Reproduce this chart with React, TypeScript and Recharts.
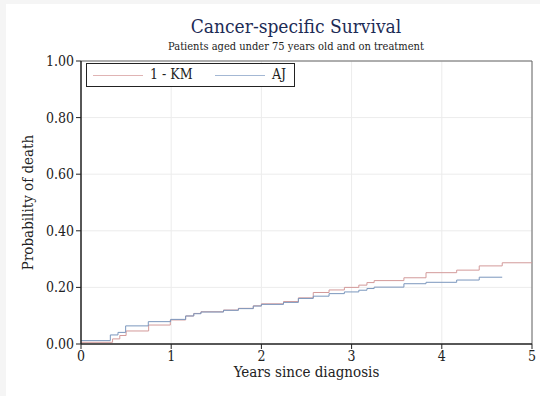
import React from "react";
import { LineChart, Line, XAxis, YAxis, CartesianGrid, ReferenceLine } from "recharts";

const kmTimes = [0, 0.35, 0.43, 0.5, 0.75, 0.99, 1.16, 1.25, 1.33, 1.58, 1.745, 1.91, 2.0, 2.245, 2.41, 2.575, 2.75, 2.92, 3.08, 3.17, 3.25, 3.58, 3.825, 4.165, 4.415, 4.67, 5.0];
const kmValues = [0.006, 0.018, 0.03, 0.046, 0.067, 0.085, 0.099, 0.108, 0.114, 0.12, 0.126, 0.135, 0.142, 0.15, 0.163, 0.182, 0.191, 0.2, 0.208, 0.217, 0.224, 0.234, 0.252, 0.261, 0.276, 0.287, 0.287];

const ajTimes = [0, 0.325, 0.41, 0.495, 0.746, 0.994, 1.16, 1.25, 1.33, 1.58, 1.745, 1.91, 2.0, 2.245, 2.41, 2.575, 2.75, 2.92, 3.08, 3.17, 3.25, 3.58, 3.825, 4.165, 4.415, 4.67];
const ajValues = [0.012, 0.032, 0.041, 0.064, 0.079, 0.087, 0.099, 0.107, 0.113, 0.119, 0.125, 0.134, 0.14, 0.147, 0.161, 0.169, 0.178, 0.184, 0.19, 0.196, 0.201, 0.213, 0.218, 0.226, 0.236, 0.236];

const xTicks = [0, 1, 2, 3, 4, 5];
const yTicks = [0, 0.2, 0.4, 0.6, 0.8, 1.0];

const title = "Cancer-specific Survival";
const subtitle = "Patients aged under 75 years old and on treatment";
const xLabel = "Years since diagnosis";
const yLabel = "Probability of death";
const seriesNames = ["1 - KM", "AJ"];

const kmData = kmTimes.map((t, i) => ({ t, v: kmValues[i] }));
const ajData = ajTimes.map((t, i) => ({ t, v: ajValues[i] }));

const RED = "#d39a9a";
const BLUE = "#7b97bd";
const FONT = "'DejaVu Serif Condensed', 'DejaVu Serif', serif";

export default function App() {
  return (
    <div style={{ position: "absolute", left: 0, top: 0, width: 540, height: 396, background: "#f5f5f5", fontFamily: FONT }}>
      <div style={{ position: "absolute", left: 6, top: 4, width: 534, height: 392, background: "#ffffff" }} />
      <div style={{ position: "absolute", left: 0, top: 0 }}>
        <LineChart width={540} height={396} margin={{ top: 61, right: 8, bottom: 0, left: 0 }}>
          <CartesianGrid stroke="#ececec" strokeWidth={1} />
          <XAxis
            type="number"
            dataKey="t"
            domain={[0, 5]}
            ticks={xTicks}
            height={52}
            tickSize={5}
            tick={{ fill: "#222", fontSize: 14, fontFamily: FONT }}
            tickLine={{ stroke: "#222" }}
            axisLine={{ stroke: "#222", strokeWidth: 1.5 }}
            tickFormatter={(v: number) => String(v)}
            label={{ value: xLabel, position: "insideBottom", offset: 19, fill: "#222", fontSize: 15, fontFamily: FONT }}
          />
          <YAxis
            type="number"
            domain={[0, 1]}
            ticks={yTicks}
            width={81}
            tickSize={5}
            tick={{ fill: "#222", fontSize: 14, fontFamily: FONT }}
            tickLine={{ stroke: "#222" }}
            axisLine={{ stroke: "#222", strokeWidth: 1.5 }}
            tickFormatter={(v: number) => v.toFixed(2)}
            label={{ value: yLabel, angle: -90, position: "insideLeft", offset: 28, fill: "#222", fontSize: 15, fontFamily: FONT, style: { textAnchor: "middle" } }}
          />
          <ReferenceLine y={1} stroke="#666" strokeWidth={1} />
          <ReferenceLine x={5} stroke="#666" strokeWidth={1} />
          <Line data={kmData} dataKey="v" type="stepAfter" stroke={RED} strokeWidth={1} dot={false} isAnimationActive={false} />
          <Line data={ajData} dataKey="v" type="stepAfter" stroke={BLUE} strokeWidth={1} dot={false} isAnimationActive={false} />
        </LineChart>
      </div>
      <div style={{ position: "absolute", left: 96, width: 400, top: 15, textAlign: "center", fontSize: 19, color: "#1c2b55", whiteSpace: "nowrap" }}>{title}</div>
      <div style={{ position: "absolute", left: 96, width: 400, top: 40, textAlign: "center", fontSize: 11, color: "#222", whiteSpace: "nowrap" }}>{subtitle}</div>
      <div style={{ position: "absolute", left: 86, top: 63, width: 209, height: 24, border: "1px solid #222", background: "#fff", boxSizing: "border-box" }}>
        <div style={{ position: "absolute", left: 6, top: 11, width: 50, height: 1, background: "#e0b4b4" }} />
        <div style={{ position: "absolute", left: 63, top: 2, fontSize: 14, color: "#222", whiteSpace: "nowrap" }}>{seriesNames[0]}</div>
        <div style={{ position: "absolute", left: 128, top: 11, width: 50, height: 1, background: "#a4b8d4" }} />
        <div style={{ position: "absolute", left: 185, top: 2, fontSize: 14, color: "#222", whiteSpace: "nowrap" }}>{seriesNames[1]}</div>
      </div>
    </div>
  );
}
